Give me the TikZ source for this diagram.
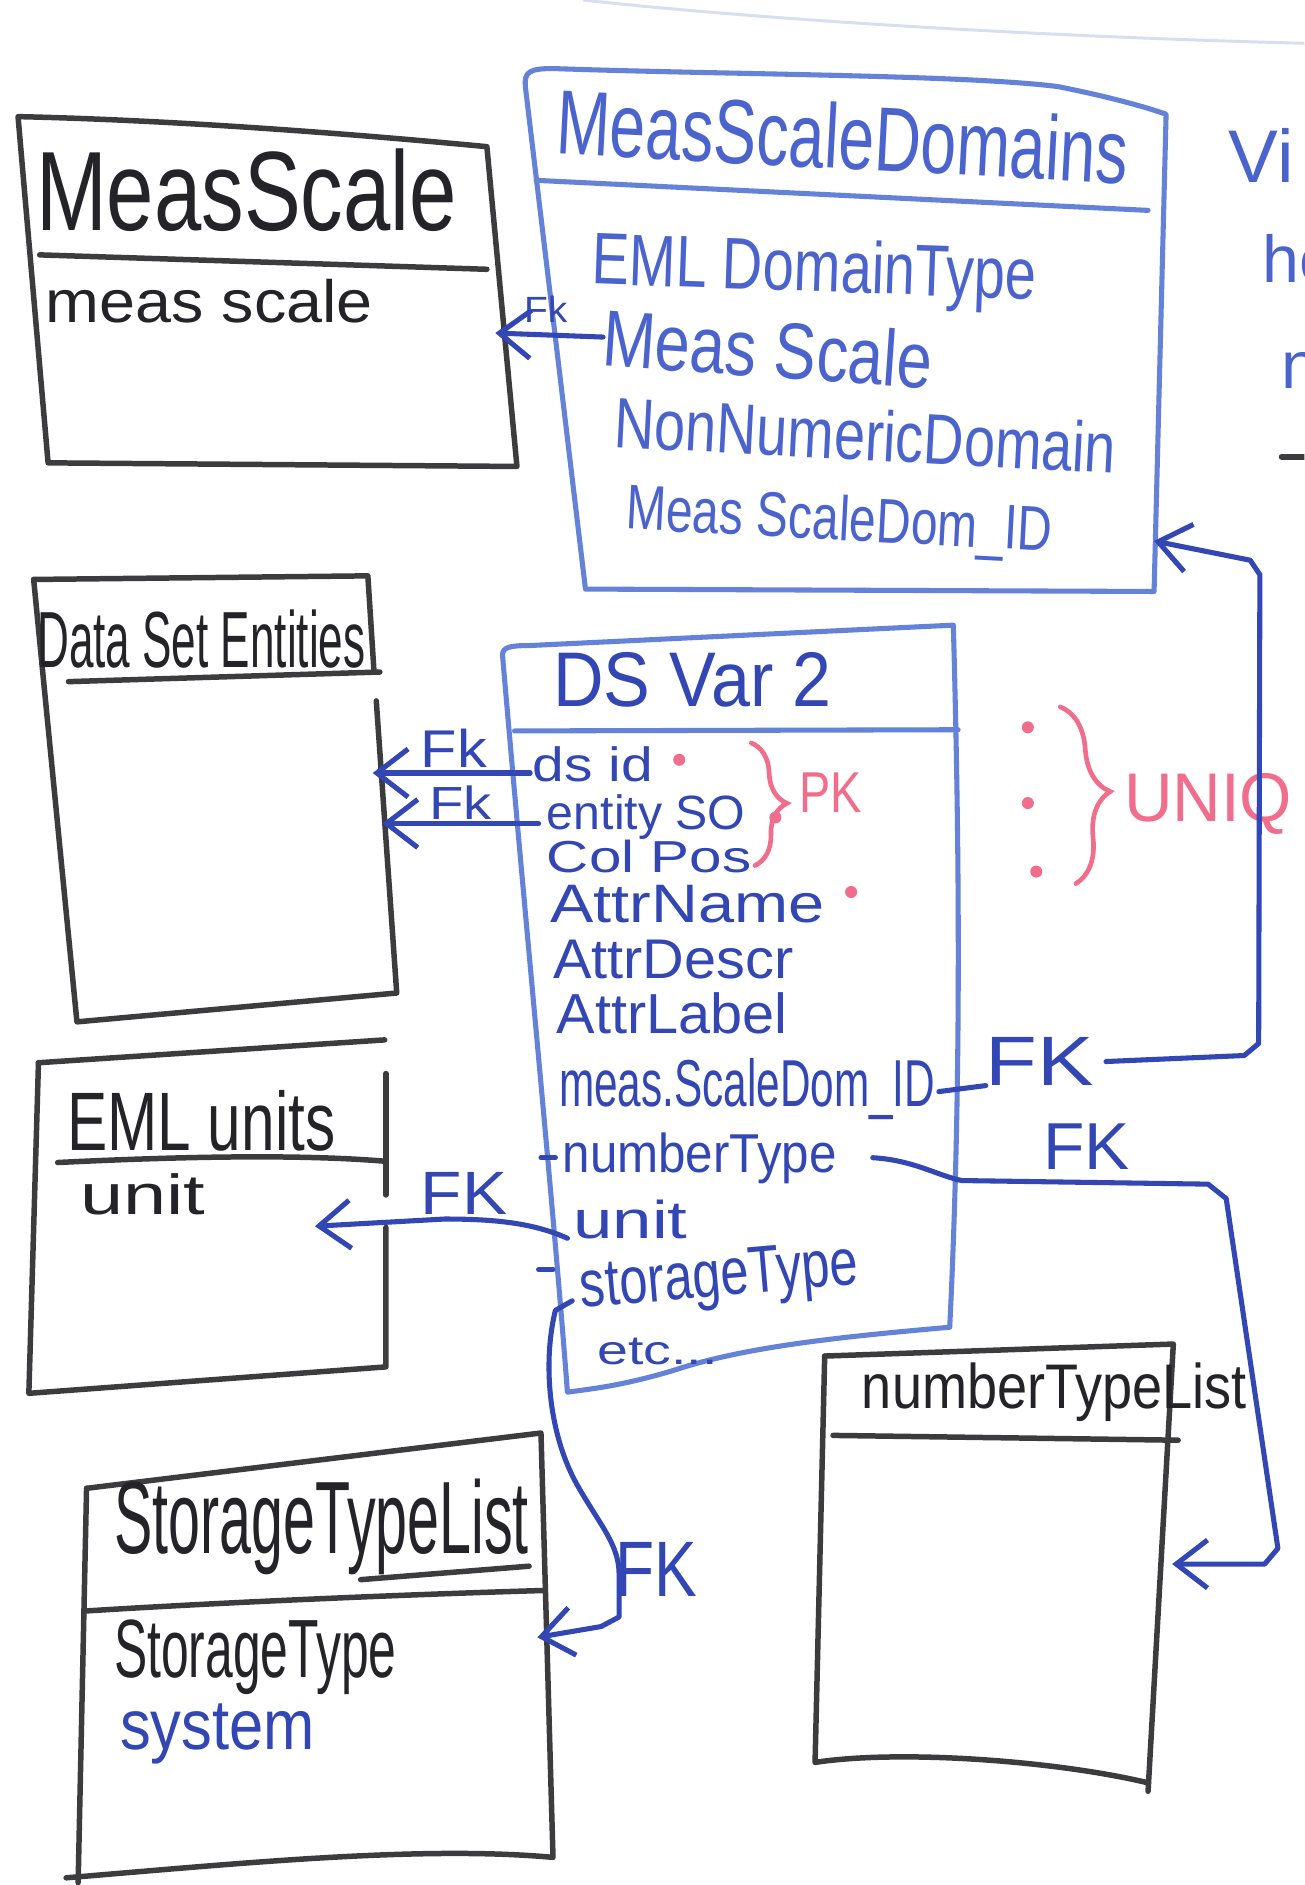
\documentclass[tikz,border=0pt]{standalone}
\usepackage{fontspec}
\setmainfont{Liberation Sans}
\usepackage{graphicx}
\usetikzlibrary{arrows.meta,decorations.pathreplacing,calc}
\definecolor{inkblue}{RGB}{50,70,180}
\definecolor{msdblue}{RGB}{75,100,205}
\definecolor{lineblue}{RGB}{100,130,215}
\definecolor{inkblack}{RGB}{35,35,40}
\definecolor{boxblack}{RGB}{60,60,62}
\definecolor{inkpink}{RGB}{240,110,140}
\definecolor{faint}{RGB}{215,222,242}
\newlength\unitpx
\setlength\unitpx{0.1mm}
\newcommand{\hw}[3]{\resizebox{#1\unitpx}{#2\unitpx}{#3}}
\newcommand{\hh}[2]{\resizebox{!}{#1\unitpx}{#2}}
\tikzset{
 txt/.style={inner sep=0pt, outer sep=0pt, anchor=base west},
 bluetxt/.style={txt, text=inkblue},
 msdtxt/.style={txt, text=msdblue},
 blacktxt/.style={txt, text=inkblack},
 pinktxt/.style={txt, text=inkpink},
 boxk/.style={draw=boxblack, line width=1.3pt, line join=round, line cap=round},
 boxb/.style={draw=lineblue, line width=1.2pt, line join=round, line cap=round},
 link/.style={draw=inkblue, line width=1.2pt, line cap=round, line join=round},
 fkline/.style={link, -{Straight Barb[length=2.6mm,width=4mm]}},
 pinkline/.style={draw=inkpink, line width=1.1pt, line cap=round},
 pinkdot/.style={fill=inkpink}
}
\begin{document}
\begin{tikzpicture}[x=0.1mm,y=-0.1mm]
\useasboundingbox (0,0) rectangle (1085,1568);
\clip (0,0) rectangle (1085,1568);
\fill[white] (0,0) rectangle (1085,1568);

% faint arc at top
\draw[faint, line width=0.7pt] (485,0) .. controls (620,15) and (850,30) .. (1085,36);

% ---------------- MeasScale ----------------
\draw[boxk] (15,97) .. controls (150,100) and (300,112) .. (405,122) -- (430,388) -- (40,385) -- cycle;
\draw[boxk] (33,212) -- (405,224);
\node[blacktxt] (ms-title) at (30,192) {\hw{350}{68}{MeasScale}};
\node[blacktxt] (ms-f1) at (38,268) {\hw{272}{36}{meas scale}};

% ---------------- MeasScaleDomains ----------------
\draw[boxb] (437,72) .. controls (436,60) and (440,57) .. (460,57) .. controls (600,62) and (800,62) .. (880,72) .. controls (920,80) and (950,88) .. (970,95) -- (960,492) -- (487,490) -- cycle;
\draw[boxb] (446,150) -- (955,175);
\node[msdtxt,rotate=-3] (msd-title) at (462,128) {\hw{476}{55}{MeasScaleDomains}};
\node[msdtxt,rotate=-2] (msd-f1) at (492,236) {\hw{370}{44}{EML DomainType}};
\node[msdtxt,rotate=-4] (msd-f2) at (500,304) {\hw{275}{48}{Meas Scale}};
\node[msdtxt,rotate=-3] (msd-f3) at (510,372) {\hw{418}{43}{NonNumericDomain}};
\node[msdtxt,rotate=-3] (msd-f4) at (520,440) {\hw{355}{38}{Meas ScaleDom\_ID}};

% right edge cut-off writing
\node[msdtxt] (r1) at (1022,152) {\hh{45}{Vi}};
\node[msdtxt] (r2) at (1050,235) {\hh{40}{he}};
\node[msdtxt] (r3) at (1066,323) {\hh{30}{n}};
\draw[boxk] (1066,380) -- (1090,380);

% ---------------- Data Set Entities ----------------
\draw[boxk] (28,482) -- (306,479) -- (311,557);
\draw[boxk] (57,567) -- (316,559);
\draw[boxk] (313,583) -- (330,826) -- (64,850) -- (28,482);
\node[blacktxt] (dse-title) at (31,555) {\hw{273}{48}{Data Set Entities}};

% ---------------- DS Var 2 ----------------
\draw[boxb] (418,545) .. controls (418,538) and (425,537) .. (440,537) -- (793,520) .. controls (798,700) and (800,900) .. (790,1104) .. controls (700,1112) and (620,1120) .. (560,1140) .. controls (520,1152) and (495,1155) .. (472,1158) .. controls (460,1000) and (440,800) .. (418,545);
\draw[boxb] (428,608) -- (797,607);
\node[bluetxt] (dsv-title) at (460,588) {\hw{232}{45}{DS Var 2}};
\node[bluetxt] (dsv-dsid) at (443,650) {\hw{100}{29}{ds id}};
\node[bluetxt] (dsv-ent) at (455,690) {\hw{165}{29}{entity SO}};
\node[bluetxt] (dsv-col) at (455,726) {\hw{170}{27}{Col Pos}};
\node[bluetxt] (dsv-an) at (458,767) {\hw{228}{31}{AttrName}};
\node[bluetxt] (dsv-ad) at (460,814) {\hw{200}{32}{AttrDescr}};
\node[bluetxt] (dsv-al) at (463,860) {\hw{192}{34}{AttrLabel}};
\node[bluetxt] (dsv-meas) at (465,920) {\hw{313}{40}{meas.ScaleDom\_ID}};
\node[bluetxt] (dsv-nt) at (468,975) {\hw{228}{33}{numberType}};
\node[bluetxt] (dsv-unit) at (477,1030) {\hw{95}{32}{unit}};
\node[bluetxt,rotate=5] (dsv-st) at (484,1088) {\hw{232}{38}{storageType}};
\node[bluetxt] (dsv-etc) at (497,1135) {\hw{100}{22}{etc...}};

% ticks on the left edge
\draw[link] (450,963) -- (462,963);
\draw[link] (448,1056) -- (460,1056);

% PK / UNIQ annotations
\fill[pinkdot] (565,632) circle (5);
\fill[pinkdot] (645,680) circle (5);
\fill[pinkdot] (708,742) circle (5);
\draw[pinkline, decorate, decoration={brace, amplitude=8pt}] (625,618) -- (628,720);
\node[pinktxt] (pk) at (665,676) {\hw{52}{33}{PK}};
\fill[pinkdot] (855,605) circle (5);
\fill[pinkdot] (855,668) circle (5);
\fill[pinkdot] (862,725) circle (5);
\draw[pinkline, decorate, decoration={brace, amplitude=10pt}] (882,588) -- (895,735);
\node[pinktxt] (uniq) at (935,683) {\hw{140}{40}{UNIQ}};

% ---------------- EML units ----------------
\draw[boxk] (32,884) -- (320,865);
\draw[boxk] (321,893) -- (321,994);
\draw[boxk] (321,1021) -- (321,1137) -- (24,1159) -- (32,884);
\draw[boxk] (48,967) .. controls (150,962) and (250,960) .. (321,966);
\node[blacktxt] (eu-title) at (56,957) {\hw{223}{50}{EML units}};
\node[blacktxt] (eu-f1) at (67,1010) {\hw{104}{34}{unit}};

% ---------------- StorageTypeList ----------------
\draw[boxk] (72,1238) -- (450,1192) -- (460,1545) .. controls (350,1535) and (200,1550) .. (55,1562);
\draw[boxk] (72,1238) -- (65,1566);
\draw[boxk, dash pattern=on 40pt off 6pt on 12pt off 8pt] (300,1314) -- (450,1302);
\draw[boxk] (72,1340) .. controls (200,1332) and (350,1326) .. (452,1323);
\node[blacktxt] (stl-title) at (95,1292) {\hw{345}{62}{StorageTypeList}};
\node[blacktxt] (stl-f1) at (95,1395) {\hw{235}{48}{StorageType}};
\node[bluetxt] (stl-f2) at (100,1455) {\hw{162}{38}{system}};

% ---------------- numberTypeList ----------------
\draw[boxk] (686,1128) -- (976,1118) -- (955,1490);
\draw[boxk] (686,1128) -- (678,1466) .. controls (750,1455) and (880,1465) .. (955,1483);
\draw[boxk] (693,1194) -- (980,1198);
\node[blacktxt] (ntl-title) at (717,1172) {\hw{320}{38}{numberTypeList}};

% ---------------- connectors ----------------
\coordinate (ms-in) at (412,277);
\draw[fkline] (msd-f2.west) -- (ms-in);
\node[bluetxt] (fk1) at (436,268) {\hw{36}{22}{Fk}};

\coordinate (dse-in1) at (310,643);
\coordinate (dse-in2) at (318,685);
\draw[fkline] (dsv-dsid.base west) ++(-2,-7) -- (dse-in1);
\draw[fkline] (dsv-ent.base west) ++(-7,-5) -- (dse-in2);
\node[bluetxt] (fk2) at (350,638) {\hw{55}{32}{Fk}};
\node[bluetxt] (fk3) at (357,682) {\hw{52}{28}{Fk}};

\coordinate (msd-in) at (960,450);
\node[bluetxt] (fk4) at (820,903) {\hw{90}{40}{FK}};
\draw[link] (dsv-meas.base east) ++(3,-12) -- (fk4.base west);
\draw[fkline] (fk4.east) ++(10,0) -- (1035,878) -- (1047,868) -- (1048,478) -- (1040,466) -- (msd-in);

\coordinate (ntl-in) at (975,1301);
\node[bluetxt] (fk5) at (868,973) {\hw{72}{38}{FK}};
\draw[fkline] (dsv-nt.base east) ++(30,-12) .. controls (760,965) and (780,978) .. (800,982) -- (1005,985) -- (1020,997) -- (1063,1288) -- (1052,1301) -- (ntl-in);

\coordinate (eu-in) at (262,1020);
\node[bluetxt] (fk6) at (350,1010) {\hw{72}{35}{FK}};
\draw[fkline] (dsv-unit.base west) ++(-5,0) .. controls (445,1018) and (415,1014) .. (370,1014) -- (eu-in);

\coordinate (stl-in) at (447,1362);
\node[bluetxt] (fk7) at (512,1328) {\hw{68}{45}{FK}};
\draw[fkline] (dsv-st.base west) ++(-8,-6) -- (462,1090) .. controls (452,1130) and (455,1190) .. (480,1235) .. controls (500,1270) and (515,1285) .. (515,1310) -- (515,1345) -- (500,1353) -- (stl-in);
\end{tikzpicture}
\end{document}
